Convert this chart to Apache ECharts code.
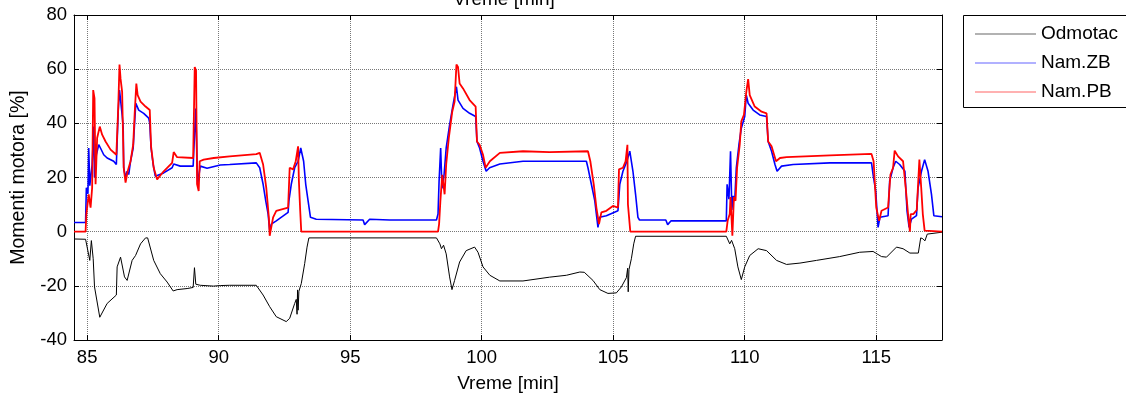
<!DOCTYPE html>
<html>
<head>
<meta charset="utf-8">
<script src="https://cdn.jsdelivr.net/npm/echarts/dist/echarts.min.js"></script>
<style>
  html, body { margin: 0; padding: 0; background: #fff; }
  #chart { width: 1126px; height: 398px; }
</style>
</head>
<body>
<div id="chart"></div>
<script>
// time axis [min]
const odmotacT = [84.5, 84.94, 85.1, 85.16, 85.23, 85.28, 85.48, 85.76, 86.11, 86.14, 86.27, 86.34, 86.42, 86.52, 86.58,
  86.71, 86.84, 87.03, 87.22, 87.3, 87.53, 87.78, 88.04, 88.27, 88.42, 88.8, 89.03, 89.08, 89.13, 89.3, 89.8, 90.06,
  90.42, 91.43, 91.69, 91.94, 92.19, 92.57, 92.7, 92.89, 92.95, 92.98, 93.0, 93.02, 93.05, 93.14, 93.27, 93.36, 93.43,
  98.28, 98.41, 98.47, 98.55, 98.65, 98.78, 98.87, 98.97, 99.16, 99.41, 99.73, 99.86, 100.05, 100.31, 100.69, 101.57,
  102.58, 103.22, 103.73, 103.9, 104.23, 104.49, 104.8, 105.12, 105.31, 105.5, 105.53, 105.55, 105.57, 105.6, 105.69,
  105.78, 105.85, 109.3, 109.43, 109.5, 109.62, 109.74, 109.87, 110.0, 110.19, 110.51, 110.83, 111.21, 111.59, 112.1,
  112.73, 113.61, 114.37, 114.88, 115.2, 115.39, 115.77, 116.02, 116.28, 116.6, 116.69, 116.77, 116.85, 116.94, 117.0, 117.5];
const odmotacV = [-2.7, -2.8, -10.6, -3.3, -10, -20.4, -31.6, -26.5, -23.4, -13, -9.4, -9.2, -16.7, -18, -17.3,
  -10.6, -8.8, -4.5, -2.3, -2.3, -10.6, -15.5, -18.6, -21.9, -21.4, -21, -20.6, -13.3, -19.4, -19.8, -20.1, -19.9,
  -19.8, -19.8, -23.4, -27.7, -31.4, -33.2, -32, -26.5, -25, -30.5, -21.5, -29, -22, -19.2, -11.8, -5.7, -2.3,
  -2.3, -4.5, -6.3, -5, -8.2, -16.7, -21.4, -18, -11.2, -7, -5.7, -7.6, -13, -16.1, -18.2, -18.2,
  -16.8, -16.1, -14.9, -15, -18, -21.4, -22.8, -22.6, -20.4, -17, -16.7, -13.5, -22.2, -14, -10,
  -4.5, -1.7, -1.7, -4.5, -3.2, -6.3, -13, -17.7, -13, -8.8, -6.3, -7, -10.6, -12.1, -11.6,
  -10.6, -9.2, -7.6, -7.3, -9.2, -9.4, -5.7, -6.3, -7.9, -7.9, -2.3, -2.6, -3.4, -0.9, -0.2, -0.2];

const zbT = [84.5, 84.94, 84.97, 85.03, 85.06, 85.1, 85.19, 85.25, 85.28, 85.35, 85.44, 85.51, 85.63, 85.76, 86.01,
  86.11, 86.18, 86.23, 86.29, 86.33, 86.37, 86.39, 86.46, 86.52, 86.58, 86.65, 86.75, 86.8, 86.85, 86.96, 87.15,
  87.34, 87.38, 87.43, 87.51, 87.59, 87.66, 87.91, 88.23, 88.29, 88.54, 89.03, 89.06, 89.13, 89.2, 89.3, 89.56,
  90.06, 90.42, 91.43, 91.56, 91.69, 91.79, 91.88, 91.94, 92.0, 92.19, 92.64, 92.67, 92.76, 92.89, 93.02, 93.12,
  93.23, 93.31, 93.4, 93.49, 93.71, 95.49, 95.55, 95.74, 96.5, 98.28, 98.34, 98.38, 98.44, 98.49, 98.57, 98.65,
  98.78, 98.91, 99.04, 99.1, 99.29, 99.54, 99.77, 99.82, 99.92, 100.05, 100.17, 100.3, 100.69, 101.57, 102.58,
  103.98, 104.04, 104.17, 104.3, 104.42, 104.48, 104.74, 105.18, 105.25, 105.37, 105.52, 105.63, 105.75, 105.85,
  105.94, 106.0, 107.0, 107.07, 107.2, 108.6, 109.3, 109.33, 109.4, 109.46, 109.51, 109.56, 109.62, 109.68, 109.78,
  109.87, 110.0, 110.06, 110.13, 110.32, 110.57, 110.83, 110.89, 111.02, 111.15, 111.23, 111.4, 111.84, 113.24,
  114.82, 114.88, 114.98, 115.07, 115.14, 115.45, 115.51, 115.64, 115.74, 115.89, 116.09, 116.17, 116.25, 116.34,
  116.53, 116.59, 116.72, 116.84, 116.97, 117.1, 117.19, 117.5];
const zbV = [3.4, 3.4, 16.2, 14, 30.9, 17, 24.8, 38.8, 20, 28.4, 32.1, 30.8, 28.4, 27.2, 26,
  24.8, 44.3, 52.3, 46.8, 43.1, 38.5, 23.6, 19.9, 22.3, 21.1, 26, 30.9, 39.4, 47.4, 44.9, 43.7,
  41.9, 40, 30.9, 24.8, 20.5, 19.9, 21.7, 23.6, 25, 24.2, 24.2, 30.9, 45.5, 17.5, 24.2, 23.4,
  24.6, 24.8, 25.4, 23.6, 17.5, 11.4, 6.5, 0.4, 2.8, 4, 7.1, 11.4, 17.5, 23.6, 26, 30.9,
  26, 17.5, 11.4, 5.3, 4.6, 4.3, 2.6, 4.6, 4.3, 4.3, 6.5, 18.7, 30.9, 16, 21.1, 30.9,
  39.4, 46.8, 53.5, 48.6, 45.5, 43.7, 42.5, 33.3, 30.9, 26, 22.3, 23.6, 25, 26, 26,
  26, 23.6, 17.5, 11.4, 1.6, 5.3, 5.9, 7.7, 17.5, 22.3, 26, 29.7, 22.3, 13.8,
  5.3, 4.3, 4.3, 2.6, 4, 4, 4, 17.5, 12, 29.7, 8, 13.2, 11.5, 23.6, 32.1,
  38.2, 42.5, 50.4, 47.4, 44.9, 43.1, 42.5, 33.3, 29.7, 24.8, 22.3, 24.2, 24.8, 25.4,
  25.4, 21.1, 15, 1.6, 5.3, 5.9, 18.7, 23.6, 26, 24.8, 22.3, 7.7, 1.6, 4.6,
  5.9, 16.2, 22.3, 26.6, 22.3, 13.8, 5.9, 5.5];

const pbT = [84.5, 84.94, 84.97, 85.06, 85.13, 85.19, 85.23, 85.28, 85.32, 85.38, 85.48, 85.57, 85.7, 85.89, 86.11,
  86.18, 86.23, 86.27, 86.33, 86.39, 86.46, 86.54, 86.65, 86.75, 86.81, 86.87, 86.92, 87.03, 87.22, 87.38, 87.43,
  87.53, 87.66, 87.91, 88.23, 88.29, 88.42, 89.03, 89.09, 89.14, 89.18, 89.24, 89.28, 89.43, 89.81, 90.42, 91.43,
  91.56, 91.69, 91.81, 91.91, 91.94, 92.07, 92.19, 92.64, 92.7, 92.83, 92.93, 93.02, 93.05, 93.1, 93.14, 98.34,
  98.38, 98.43, 98.5, 98.59, 98.65, 98.75, 98.88, 98.97, 99.04, 99.1, 99.16, 99.29, 99.54, 99.77, 99.82, 99.92,
  100.05, 100.15, 100.31, 100.69, 101.57, 102.58, 104.04, 104.13, 104.26, 104.36, 104.46, 104.55, 104.74, 104.99,
  105.18, 105.22, 105.37, 105.47, 105.54, 105.56, 105.65, 109.3, 109.35, 109.43, 109.46, 109.53, 109.59, 109.65,
  109.71, 109.81, 109.87, 109.97, 110.06, 110.13, 110.19, 110.38, 110.64, 110.83, 110.89, 111.02, 111.19, 111.34,
  111.59, 113.24, 114.82, 114.9, 115.0, 115.11, 115.2, 115.45, 115.54, 115.64, 115.7, 115.83, 116.02, 116.12,
  116.21, 116.28, 116.31, 116.41, 116.54, 116.64, 116.71, 116.77, 116.84, 117.5];
const pbV = [0, 0, 6.5, 13.8, 8.9, 16.2, 52.3, 49.2, 17.5, 34.6, 38.8, 35.8, 33.3, 30.3, 28.4,
  45.5, 61.7, 56.5, 51.6, 23.6, 18.1, 22.3, 26, 32.1, 44.3, 54.7, 50.4, 48, 46.2, 44.9, 31.5,
  23.6, 19.3, 22.3, 25.4, 29.4, 27.5, 27.2, 60.8, 59.5, 17.5, 15, 26, 26.6, 27.2, 27.8, 28.6,
  29.1, 24.8, 16.2, 5, -1.5, 5.3, 7.7, 8.9, 23.6, 23, 26, 31.5, 18.7, 7.7, 0, 0,
  2.8, 11.4, 21, 13.8, 24.8, 34.6, 44.3, 48, 61.7, 60.8, 54.7, 52.9, 48.6, 46.2, 33.3, 32.1,
  28.4, 23.6, 26, 29.1, 29.7, 29.4, 29.7, 26, 17.5, 8.9, 2.8, 7.1, 7.7, 9.5,
  8.9, 23, 23.6, 26, 32.1, 10.1, 0, 0, 4, 6.5, 12.8, -1.5, 12.8, 11.4,
  23.6, 32.1, 40.7, 43.1, 51.6, 56.3, 50.4, 46.2, 44.3, 43.7, 33.3, 31.5, 26, 27.2,
  27.5, 28.2, 28.7, 26, 8.9, 4, 7.7, 8.9, 21.1, 23.6, 29.9, 27.8, 26, 16.2,
  6.5, 0, 6.5, 6.5, 8, 26.6, 16.2, 6.5, 0.4, 0];

const xTicks = [85, 90, 95, 100, 105, 110, 115];
const yTicks = [-40, -20, 0, 20, 40, 60, 80];

const FONT = 'Arial, "Liberation Sans", sans-serif';
const zip = (t, v) => t.map((x, i) => [x, v[i]]);

const chart = echarts.init(document.getElementById('chart'));

const baseX = {
  type: 'value',
  min: 84.5,
  max: 117.5,
  splitNumber: 7,
  axisLine: { onZero: false, lineStyle: { color: '#000', width: 1 } },
  axisTick: { inside: true, length: 5, lineStyle: { color: '#000' } },
};
const baseY = {
  type: 'value',
  min: yTicks[0],
  max: yTicks[yTicks.length - 1],
  interval: 20,
  axisLine: { onZero: false, lineStyle: { color: '#000', width: 1 } },
  axisTick: { inside: true, length: 5, lineStyle: { color: '#000' } },
};

chart.setOption({
  animation: false,
  grid: { left: 74, top: 15, right: 184, bottom: 56 },
  textStyle: { fontFamily: FONT },
  graphic: [
    {
      type: 'text',
      x: 504,
      y: 9,
      style: {
        text: 'Vreme [min]',
        font: '19px ' + FONT,
        fill: '#000',
        textAlign: 'center',
        textVerticalAlign: 'bottom'
      }
    },
    {
      // legend frame, runs off the right edge like the original
      type: 'rect',
      shape: { x: 963.5, y: 15.5, width: 200, height: 92 },
      style: { fill: 'none', stroke: '#000', lineWidth: 1 },
      z: 10
    }
  ],
  legend: {
    left: 963,
    top: 15,
    orient: 'vertical',
    icon: 'rect',
    itemWidth: 61,
    itemHeight: 1,
    itemGap: 9,
    padding: [9, 10, 6, 12],
    textStyle: { fontSize: 19, color: '#000', lineHeight: 20, fontFamily: FONT },
    data: [
      { name: 'Odmotac', itemStyle: { color: '#666' } },
      { name: 'Nam.ZB', itemStyle: { color: '#6464ff' } },
      { name: 'Nam.PB', itemStyle: { color: '#ff6464' } }
    ]
  },
  xAxis: [
    Object.assign({}, baseX, {
      position: 'bottom',
      name: 'Vreme [min]',
      nameLocation: 'middle',
      nameGap: 34,
      nameTextStyle: { fontSize: 19, color: '#000', fontFamily: FONT },
      axisLabel: {
        color: '#000', fontSize: 18.5, margin: 8, fontFamily: FONT,
        showMinLabel: false, showMaxLabel: false,
        formatter: v => (xTicks.indexOf(v) >= 0 ? String(v) : '')
      },
      splitLine: { show: true, lineStyle: { color: '#777', type: [1, 1], width: 1 } }
    }),
    Object.assign({}, baseX, {
      position: 'top',
      axisLabel: { show: false },
      splitLine: { show: false }
    })
  ],
  yAxis: [
    Object.assign({}, baseY, {
      position: 'left',
      name: 'Momenti motora [%]',
      nameLocation: 'middle',
      nameGap: 45,
      nameTextStyle: { fontSize: 19.5, color: '#000', fontFamily: FONT },
      axisLabel: { color: '#000', fontSize: 18.5, margin: 7, fontFamily: FONT },
      splitLine: { show: true, lineStyle: { color: '#777', type: [1, 1], width: 1 } }
    }),
    Object.assign({}, baseY, {
      position: 'right',
      axisLabel: { show: false },
      splitLine: { show: false }
    })
  ],
  series: [
    {
      name: 'Odmotac', type: 'line', symbol: 'none', showSymbol: false,
      data: zip(odmotacT, odmotacV),
      lineStyle: { color: '#000', width: 1 }, itemStyle: { color: '#000' }
    },
    {
      name: 'Nam.ZB', type: 'line', symbol: 'none', showSymbol: false,
      data: zip(zbT, zbV),
      lineStyle: { color: '#0000ff', width: 1.6 }, itemStyle: { color: '#0000ff' }
    },
    {
      name: 'Nam.PB', type: 'line', symbol: 'none', showSymbol: false,
      data: zip(pbT, pbV),
      lineStyle: { color: '#ff0000', width: 1.8 }, itemStyle: { color: '#ff0000' }
    }
  ]
});
</script>
</body>
</html>
